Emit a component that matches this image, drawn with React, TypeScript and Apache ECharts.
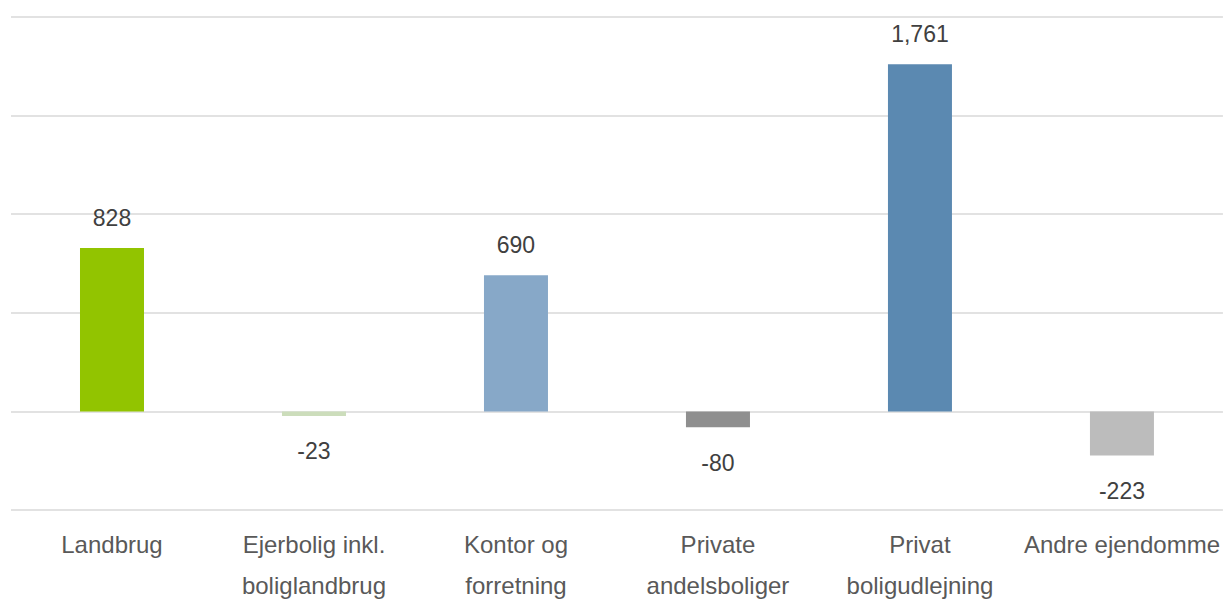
import React, { useEffect, useRef } from "react";
import * as echarts from "echarts";

const categories = [
  "Landbrug",
  "Ejerbolig inkl.\nboliglandbrug",
  "Kontor og\nforretning",
  "Private\nandelsboliger",
  "Privat\nboligudlejning",
  "Andre ejendomme",
];
const values = [828, -23, 690, -80, 1761, -223];
const colors = ["#92C400", "#CCDDBB", "#87A8C8", "#8F8F8F", "#5B89B1", "#BCBCBC"];

export default function App() {
  const ref = useRef<HTMLDivElement>(null);
  useEffect(() => {
    if (!ref.current) return;
    const chart = echarts.init(ref.current, undefined, { renderer: "svg" });
    chart.setOption({
      animation: false,
      backgroundColor: "#ffffff",
      grid: { left: 11, top: 17, width: 1212, height: 500, containLabel: false },
      xAxis: {
        type: "category",
        data: categories,
        axisLine: { show: false, onZero: false },
        axisTick: { show: false },
        axisLabel: {
          interval: 0,
          color: "#595959",
          fontSize: 24,
          fontFamily: "Liberation Sans, Arial, sans-serif",
          lineHeight: 41,
          margin: 14,
        },
      },
      yAxis: {
        type: "value",
        min: -500,
        max: 2000,
        interval: 500,
        axisLabel: { show: false },
        axisLine: { show: false },
        axisTick: { show: false },
        splitLine: { lineStyle: { color: "#D9D9D9", width: 1.5 } },
      },
      series: [
        {
          type: "bar",
          barWidth: 64,
          data: values.map((v, i) => ({
            value: v,
            itemStyle: { color: colors[i] },
            label: {
              show: true,
              position: v >= 0 ? "top" : "bottom",
              distance: v >= 0 ? 19 : 24,
              color: "#404040",
              fontSize: 23,
              fontFamily: "Liberation Sans, Arial, sans-serif",
              formatter: (p: any) => Number(p.value).toLocaleString("en-US"),
            },
          })),
        },
      ],
    });
    return () => chart.dispose();
  }, []);
  return (
    <div
      ref={ref}
      style={{ position: "fixed", left: 0, top: 0, width: 1223, height: 606 }}
    />
  );
}
